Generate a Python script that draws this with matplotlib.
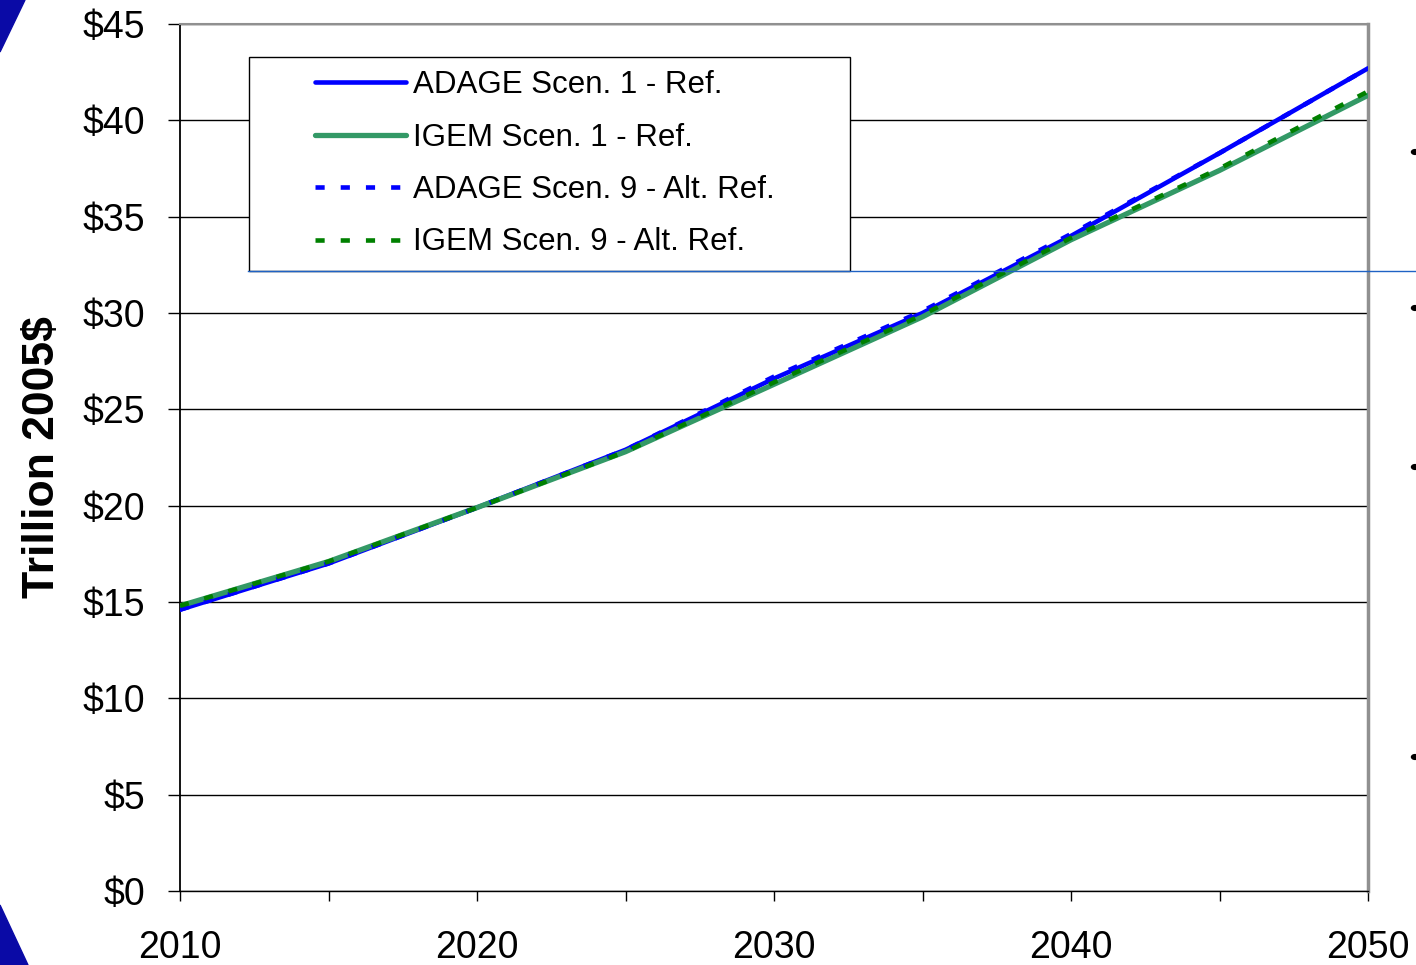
import numpy as np
import matplotlib
matplotlib.use("Agg")
import matplotlib.pyplot as plt
from matplotlib.patches import Rectangle, Polygon, Circle
from matplotlib.lines import Line2D

plt.rcParams['font.family'] = ['Liberation Sans', 'DejaVu Sans']

years = [2010, 2015, 2020, 2025, 2030, 2035, 2040, 2045, 2050]
adage_s1 = [14.6, 17.0, 19.9, 22.9, 26.6, 30.0, 34.0, 38.3, 42.7]
igem_s1 = [14.8, 17.1, 19.9, 22.8, 26.3, 29.8, 33.8, 37.4, 41.3]
adage_s9 = [14.6, 17.0, 19.9, 22.9, 26.7, 30.1, 34.1, 38.3, 42.7]
igem_s9 = [14.8, 17.1, 19.9, 22.8, 26.4, 29.9, 33.9, 37.5, 41.5]
labels = ["ADAGE Scen. 1 - Ref.", "IGEM Scen. 1 - Ref.",
          "ADAGE Scen. 9 - Alt. Ref.", "IGEM Scen. 9 - Alt. Ref."]
yticks = [0, 5, 10, 15, 20, 25, 30, 35, 40, 45]

W, H = 1416, 965
fig = plt.figure(figsize=(W / 100, H / 100), dpi=100)
ax = fig.add_axes([180 / W, 1 - 891 / H, (1368 - 180) / W, (891 - 24) / H])

l1, = ax.plot(years, adage_s1, color='#0000ff', lw=3.3, solid_capstyle='round', zorder=3)
l2, = ax.plot(years, igem_s1, color='#339966', lw=3.8, solid_capstyle='round', zorder=3)
l3, = ax.plot(years, adage_s9, color='#0000ff', lw=3.3, dashes=(2, 3.5), zorder=4)
l4, = ax.plot(years, igem_s9, color='#008000', lw=3.3, dashes=(2, 3.5), zorder=5)

ax.set_xlim(2010, 2050)
ax.set_ylim(0, 45)
ax.set_xticks([2010, 2020, 2030, 2040, 2050])
ax.set_xticks([2015, 2025, 2035, 2045], minor=True)
ax.set_yticks(yticks)
ax.set_yticklabels(["$%d" % v for v in yticks])
ax.yaxis.grid(True, color='black', lw=1.0)
ax.set_axisbelow(True)
ax.tick_params(axis='y', labelsize=27, length=9, width=1, pad=16, direction='out')
ax.tick_params(axis='x', which='both', labelsize=27, length=7, width=1, pad=21, direction='out')

ax.spines['left'].set_color('black')
ax.spines['left'].set_linewidth(1.3)
ax.spines['bottom'].set_color('black')
ax.spines['bottom'].set_linewidth(1.0)
ax.spines['top'].set_color('#909090')
ax.spines['top'].set_linewidth(1.5)
ax.spines['right'].set_color('#909090')
ax.spines['right'].set_linewidth(2.5)

ax.set_ylabel("Trillion 2005$", fontsize=32, fontweight='bold', labelpad=14)

# legend box
fig.patches.append(Rectangle((249 / W, 1 - 271 / H), (850 - 249) / W, (271 - 57) / H,
                             transform=fig.transFigure, facecolor='white',
                             edgecolor='black', lw=1.0, zorder=6))
leg = fig.legend([l1, l2, l3, l4], labels, loc='upper left',
                 bbox_to_anchor=(290 / W, 1 - 45 / H), frameon=False,
                 fontsize=22.5, handlelength=2.9, handletextpad=0.25,
                 labelspacing=0.72, borderpad=0.3)
leg.set_zorder(7)

# slide decorations
fig.add_artist(Line2D([248 / W, 1.0], [1 - 271 / H, 1 - 271 / H], transform=fig.transFigure,
                      color='#1f62c4', lw=1.0, zorder=8))
fig.patches.append(Polygon([(0, 1), (25 / W, 1), (0, 1 - 52 / H)], closed=True,
                           transform=fig.transFigure, color='#0a0aa6', zorder=8))
fig.patches.append(Polygon([(0, 1 - 905 / H), (28 / W, 0), (0, 0)], closed=True,
                           transform=fig.transFigure, color='#0a0aa6', zorder=8))
for yy in [152, 308, 467, 757]:
    fig.patches.append(Circle((1415 / W, 1 - yy / H), 3.5 / W, transform=fig.transFigure,
                              color='black', zorder=8))

fig.savefig("out.png", dpi=100)
